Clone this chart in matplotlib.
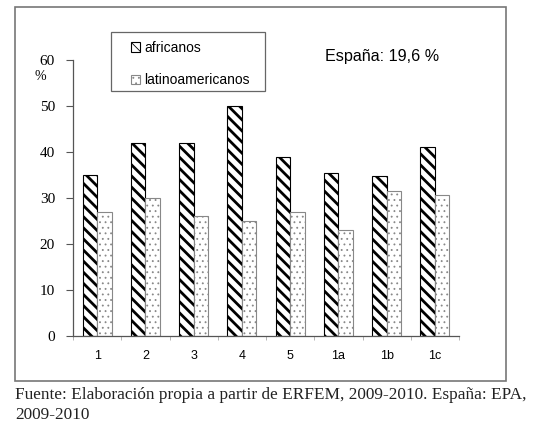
import numpy as np
import matplotlib
matplotlib.use('Agg')
import matplotlib.pyplot as plt
from matplotlib.patches import Rectangle

# datos
categorias = ['1', '2', '3', '4', '5', '1a', '1b', '1c']
africanos = [35, 42, 42, 50, 39, 35.5, 34.8, 41]
latinoamericanos = [27, 30, 26, 25, 27, 23, 31.6, 30.7]
yticks = [0, 10, 20, 30, 40, 50, 60]

plt.rcParams['hatch.linewidth'] = 2.0

fig = plt.figure(figsize=(5.33, 4.41), dpi=100)
ax = fig.add_axes([73/533, 1-336/441, (459-73)/533, (336-60)/441])

x = np.arange(len(categorias)) + 0.5
w = 0.3
ax.bar(x - w/2, africanos, w, color='white', edgecolor='black',
       hatch='\\\\\\', linewidth=0.8, label='africanos')
plt.rcParams['hatch.linewidth'] = 0.6
ax.bar(x + w/2, latinoamericanos, w, color='white', edgecolor='#888888',
       hatch='...', linewidth=0.8, label='latinoamericanos')

ax.set_xlim(0, len(categorias))
ax.set_ylim(0, 60)
ax.set_yticks(yticks)
ax.set_yticklabels([str(v) for v in yticks], family='Liberation Serif', fontsize=11)
ax.set_xticks(x)
ax.set_xticklabels(categorias, family='Liberation Sans', fontsize=9)
ax.set_xticks(np.arange(len(categorias) + 1), minor=True)
ax.tick_params(axis='x', which='major', length=0, pad=10)
ax.tick_params(axis='x', which='minor', length=3, color='#aaaaaa', direction='out')
ax.tick_params(axis='y', length=5, width=0.8, color='#555555', pad=8)
for s in ['top', 'right']:
    ax.spines[s].set_visible(False)
for s in ['left', 'bottom']:
    ax.spines[s].set_color('#555555')
    ax.spines[s].set_linewidth(0.9)

fig.text(40/533, 1-76/441, '%', family='Liberation Serif', fontsize=10,
         ha='center', va='center')

# leyenda sin marco + marco propio
leg = ax.legend(loc='upper left', bbox_to_anchor=((131-73)/386, 1+(60-41)/276),
                prop={'family': 'Liberation Sans', 'size': 10}, frameon=False,
                handlelength=0.65, handleheight=0.65,
                labelspacing=1.3, borderpad=0, handletextpad=0.3,
                borderaxespad=0)
fig.patches.append(Rectangle((111/533, 1-91/441), (265-111)/533, (91-32)/441,
                             transform=fig.transFigure, fill=False,
                             edgecolor='#666666', linewidth=0.9))

fig.text(325/533, 1-56/441, 'España: 19,6 %', family='Liberation Sans',
         fontsize=11.6, va='center')

# marco exterior
fig.patches.append(Rectangle((15/533, 1-381/441), (506-15)/533, (381-7)/441,
                             transform=fig.transFigure, fill=False,
                             edgecolor='#777777', linewidth=1.2))

fig.text(15/533, 1-395/441,
         'Fuente: Elaboración propia a partir de ERFEM, 2009-2010. España: EPA,',
         family='Liberation Serif', fontsize=12.4, va='center', color='#222222')
fig.text(15/533, 1-415/441, '2009-2010', family='Liberation Serif',
         fontsize=12.4, va='center', color='#222222')

fig.savefig('out.png', dpi=100)
